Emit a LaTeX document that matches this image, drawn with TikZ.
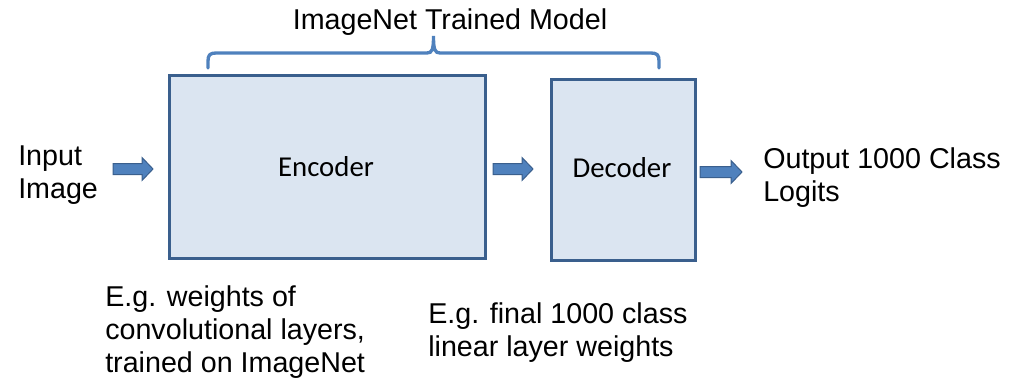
\documentclass[tikz,border=0pt]{standalone}
\usepackage{fontspec}
\setmainfont{Liberation Sans}
\newfontfamily\calib{Carlito}
\definecolor{boxfill}{HTML}{DBE5F1}
\definecolor{boxline}{HTML}{3A5F8D}
\definecolor{accent}{HTML}{4F81BD}
\newcommand\blkarrow[3]{% x1, x2, y in px
  \filldraw[fill=accent,draw=boxline,line width=0.75pt,line join=miter]
    (#1,#3-5.5) -- (#2-11,#3-5.5) -- (#2-11,#3-11.5) -- (#2,#3) -- (#2-11,#3+11.5)
    -- (#2-11,#3+5.5) -- (#1,#3+5.5) -- cycle;}
\tikzset{
  box/.style={draw=boxline,fill=boxfill,line width=2.25pt,anchor=north west,inner sep=0pt},
  lbl/.style={inner sep=0pt,anchor=north west,align=left,font=\fontsize{21.5}{24.75}\selectfont},
  inlbl/.style={inner sep=0pt,anchor=base,font=\calib\fontsize{21.6}{24}\selectfont},
  brace/.style={draw=accent,line width=2.5pt,line cap=round}
}
\begin{document}
\begin{tikzpicture}[x=0.75pt,y=-0.75pt]
\useasboundingbox (0,0) rectangle (1009,381);
% boxes
\node[box,minimum width=237pt,minimum height=137.25pt] (enc) at (168,74) {};
\node[box,minimum width=108pt,minimum height=135.75pt] (dec) at (550,78) {};
\node[inlbl] (enct) at (326,176) {Encoder};
\node[inlbl] (dect) at (622,177) {Decoder};
% brace
\coordinate (bl) at (208,68);
\coordinate (br) at (659,68);
\coordinate (bt) at (433.5,36);
\draw[brace] (bl) -- (208,61) .. controls (208,55) and (210,53) .. (216,53) -- (427,53)
  .. controls (432,53) and (433.5,50) .. (bt)
  .. controls (433.5,50) and (435,53) .. (440,53) -- (651,53)
  .. controls (657,53) and (659,55) .. (659,61) -- (br);
% labels
\node[inner sep=0pt,anchor=base,font=\fontsize{21.5}{24.75}\selectfont] (title) at (450,30) {ImageNet Trained Model};
\node[lbl] (inp) at (18,165-23.1) {\strut Input\\Image};
\node[lbl] (out) at (763,168-23.1) {\strut Output 1000 Class\\Logits};
\node[lbl] (encnote) at (105,306-23.1) {\strut E.g. weights of\\convolutional layers,\\trained on ImageNet};
\node[lbl] (decnote) at (428,323-23.1) {\strut E.g. final 1000 class\\linear layer weights};
% block arrows
\blkarrow{113}{153}{169}
\blkarrow{493}{533}{169}
\blkarrow{700}{742}{172}
\end{tikzpicture}
\end{document}
